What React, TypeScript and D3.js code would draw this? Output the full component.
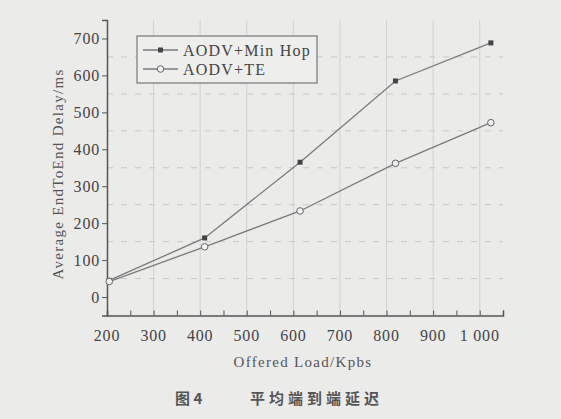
import React, { useEffect, useRef } from "react";
import * as d3 from "d3";

const loads = [204.8, 409.6, 614.4, 819.2, 1024];
const minHopDelay = [45, 160, 365, 585, 688];
const teDelay = [42, 136, 233, 362, 472];
const seriesNames = ["AODV+Min Hop", "AODV+TE"];
const xTicks = [200, 300, 400, 500, 600, 700, 800, 900, 1000];
const yTicks = [0, 100, 200, 300, 400, 500, 600, 700];

const W = 561, H = 419;

export default function App() {
  const ref = useRef<SVGSVGElement>(null);

  useEffect(() => {
    const svg = d3.select(ref.current);
    svg.selectAll("*").remove();

    svg.append("rect").attr("width", W).attr("height", H).attr("fill", "#ebebea");

    const x = d3.scaleLinear().domain([200, 1050]).range([107, 503]);
    const y = d3.scaleLinear().domain([-50, 750]).range([315.5, 20]);

    const g = svg.append("g");
    const ink = "#555";

    // grid: vertical faint at majors, horizontal dashed at half steps
    g.selectAll(".vgrid").data(xTicks.slice(1)).join("line")
      .attr("x1", d => x(d)).attr("x2", d => x(d))
      .attr("y1", y(-50)).attr("y2", y(750))
      .attr("stroke", "#d2d2d2").attr("stroke-width", 1);
    g.selectAll(".hgrid").data(d3.range(50, 700, 100)).join("line")
      .attr("x1", x(200)).attr("x2", x(1050))
      .attr("y1", d => y(d)).attr("y2", d => y(d))
      .attr("stroke", "#c8c8c8").attr("stroke-width", 1)
      .attr("stroke-dasharray", "6,8");

    // axes
    const xAxis = d3.axisBottom(x).tickValues(d3.range(200, 1051, 50))
      .tickSize(-5).tickFormat(() => "");
    const xg = g.append("g").attr("transform", `translate(0,${y(-50)})`).call(xAxis);
    xg.select(".domain").attr("stroke", ink).attr("stroke-width", 1.5);
    xg.selectAll(".tick line").attr("stroke", ink);

    const yAxis = d3.axisLeft(y).tickValues(yTicks).tickSize(5).tickFormat(() => "");
    const yg = g.append("g").attr("transform", `translate(${x(200)},0)`).call(yAxis);
    yg.select(".domain").attr("stroke", ink).attr("stroke-width", 1.5);
    yg.selectAll(".tick line").attr("stroke", ink);

    const font = "'Liberation Serif', 'DejaVu Serif', serif";
    g.selectAll(".xl").data(xTicks).join("text")
      .attr("x", d => x(d)).attr("y", 341)
      .attr("text-anchor", "middle").attr("font-family", font)
      .attr("font-size", 16).attr("letter-spacing", 0.8).attr("fill", "#444")
      .text(d => d === 1000 ? "1 000" : String(d));
    g.selectAll(".yl").data(yTicks).join("text")
      .attr("x", 100).attr("y", d => y(d) + 5.5)
      .attr("text-anchor", "end").attr("font-family", font)
      .attr("font-size", 16).attr("letter-spacing", 0.8).attr("fill", "#444")
      .text(d => String(d));

    g.append("text").attr("x", 303).attr("y", 367).attr("text-anchor", "middle")
      .attr("font-family", font).attr("font-size", 15).attr("letter-spacing", 1.3)
      .attr("fill", "#555")
      .text("Offered Load/Kpbs");
    g.append("text").attr("transform", `translate(63,174) rotate(-90)`)
      .attr("text-anchor", "middle").attr("font-family", font)
      .attr("font-size", 15).attr("letter-spacing", 1.3).attr("fill", "#555")
      .text("Average EndToEnd Delay/ms");

    // series
    const line = d3.line<number>().x((_, i) => x(loads[i])).y(d => y(d));
    const lineColor = "#7a7a7a";
    g.append("path").datum(minHopDelay).attr("d", line)
      .attr("fill", "none").attr("stroke", lineColor).attr("stroke-width", 1.3);
    g.append("path").datum(teDelay).attr("d", line)
      .attr("fill", "none").attr("stroke", lineColor).attr("stroke-width", 1.3);
    g.selectAll(".sq").data(minHopDelay).join("rect")
      .attr("x", (_, i) => x(loads[i]) - 2.5).attr("y", d => y(d) - 2.5)
      .attr("width", 5).attr("height", 5).attr("fill", "#444");
    g.selectAll(".ci").data(teDelay).join("circle")
      .attr("cx", (_, i) => x(loads[i])).attr("cy", d => y(d)).attr("r", 3.3)
      .attr("fill", "#f2f2f2").attr("stroke", "#666").attr("stroke-width", 1);

    // legend
    const lg = g.append("g");
    lg.append("rect").attr("x", 137).attr("y", 36).attr("width", 180).attr("height", 47)
      .attr("fill", "#eeeeed").attr("stroke", "#777").attr("stroke-width", 1.2);
    seriesNames.forEach((name, i) => {
      const ly = 50 + i * 19;
      lg.append("line").attr("x1", 143).attr("x2", 178).attr("y1", ly).attr("y2", ly)
        .attr("stroke", lineColor).attr("stroke-width", 1.3);
      if (i === 0) {
        lg.append("rect").attr("x", 158).attr("y", ly - 2.5).attr("width", 5).attr("height", 5)
          .attr("fill", "#444");
      } else {
        lg.append("circle").attr("cx", 160.5).attr("cy", ly).attr("r", 3.3)
          .attr("fill", "#f2f2f2").attr("stroke", "#666");
      }
      lg.append("text").attr("x", 183).attr("y", ly + 5.5)
        .attr("font-family", font).attr("font-size", 16).attr("letter-spacing", 1.2)
        .attr("fill", "#444")
        .text(name);
    });

    // caption
    const cjk = "'Noto Sans CJK SC', sans-serif";
    g.append("text").attr("x", 175).attr("y", 404).attr("font-family", cjk)
      .attr("font-size", 15).attr("font-weight", "bold").attr("fill", "#555")
      .text("图 4");
    g.append("text").attr("x", 250).attr("y", 404).attr("font-family", cjk)
      .attr("font-size", 15).attr("font-weight", "bold").attr("fill", "#555")
      .attr("letter-spacing", 4)
      .text("平均端到端延迟");
  }, []);

  return (
    <svg ref={ref} width={W} height={H}
      style={{ position: "absolute", left: 0, top: 0, display: "block" }} />
  );
}
